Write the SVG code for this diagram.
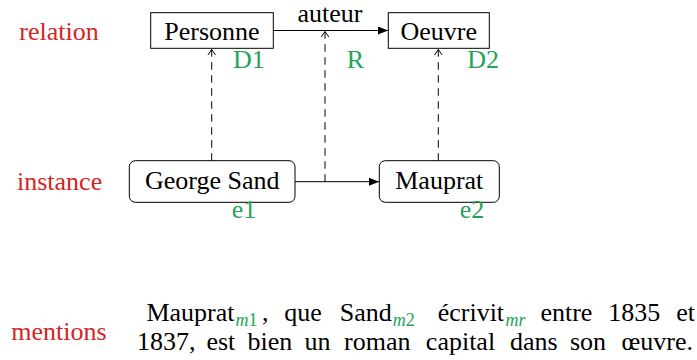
<svg xmlns="http://www.w3.org/2000/svg" width="697" height="360" viewBox="0 0 697 360">
<defs>
<style>
.lab{fill:#d42424}
.grn{fill:#23a455}
.box{fill:#fff;stroke:#000;stroke-width:1}
.solid{stroke:#000;stroke-width:1;fill:none}
.dash{stroke:#000;stroke-width:1;fill:none;stroke-dasharray:7.5 5.5}
</style>
<marker id="tri" viewBox="0 0 10 8" refX="10" refY="4" markerWidth="10" markerHeight="8" markerUnits="userSpaceOnUse" orient="auto">
<path d="M0,0 L10,4 L0,8 Z" fill="#000"/>
</marker>
<marker id="open" viewBox="0 0 8 10" refX="6.5" refY="5" markerWidth="8" markerHeight="10" markerUnits="userSpaceOnUse" orient="auto">
<path d="M1,1.2 L6.5,5 L1,8.8" fill="none" stroke="#000" stroke-width="1"/>
</marker>
</defs>

<g id="row-labels">
<text class="lab" font-family="Liberation Serif" font-size="26" text-anchor="middle" x="59" y="40">relation</text>
<text class="lab" font-family="Liberation Serif" font-size="26" text-anchor="middle" x="59.6" y="190">instance</text>
<text class="lab" font-family="Liberation Serif" font-size="26" text-anchor="middle" x="59" y="340">mentions</text>
</g>

<g id="connectors">
<line class="solid" x1="273.3" y1="30.5" x2="388" y2="30.5" marker-end="url(#tri)"/>
<line class="solid" x1="295" y1="181.7" x2="379" y2="181.7" marker-end="url(#tri)"/>
<line class="dash" x1="211.7" y1="160.7" x2="211.7" y2="49.5" marker-end="url(#open)"/>
<line class="dash" x1="325" y1="181.7" x2="325" y2="31.5" marker-end="url(#open)"/>
<line class="dash" x1="438.3" y1="160.7" x2="438.3" y2="49.5" marker-end="url(#open)"/>
<text font-family="Liberation Serif" font-size="26" text-anchor="middle" x="330" y="21.5">auteur</text>
<text class="grn" font-family="Liberation Serif" font-size="26" text-anchor="middle" x="248.9" y="68.3">D1</text>
<text class="grn" font-family="Liberation Serif" font-size="26" text-anchor="middle" x="355.4" y="68.3">R</text>
<text class="grn" font-family="Liberation Serif" font-size="26" text-anchor="middle" x="483.2" y="68.3">D2</text>
</g>

<g id="personne">
<rect class="box" x="150.7" y="12.7" width="122.6" height="35.6"/>
<text font-family="Liberation Serif" font-size="26" text-anchor="middle" x="212" y="40">Personne</text>
</g>

<g id="oeuvre">
<rect class="box" x="388.3" y="12.7" width="101" height="35.6"/>
<text font-family="Liberation Serif" font-size="26" text-anchor="middle" x="438.8" y="40">Oeuvre</text>
</g>

<g id="george-sand">
<rect class="box" x="129.3" y="160.7" width="165.7" height="41.6" rx="6" ry="6"/>
<text font-family="Liberation Serif" font-size="26" text-anchor="middle" x="212.2" y="188.5">George Sand</text>
<text class="grn" font-family="Liberation Serif" font-size="26" text-anchor="middle" x="244.1" y="218.3">e1</text>
</g>

<g id="mauprat">
<rect class="box" x="379.3" y="160.7" width="120" height="41.6" rx="6" ry="6"/>
<text font-family="Liberation Serif" font-size="26" text-anchor="middle" x="439.3" y="188.5">Mauprat</text>
<text class="grn" font-family="Liberation Serif" font-size="26" text-anchor="middle" x="471.9" y="218.3">e2</text>
</g>

<g id="mentions-text">
<text font-family="Liberation Serif" font-size="26" text-anchor="end" x="234.5" y="321">Mauprat</text>
<text class="grn" font-family="Liberation Serif" font-size="18" x="235.5" y="325.5"><tspan font-style="italic">m</tspan>1</text>
<text font-family="Liberation Serif" font-size="26" x="262" y="321">,</text>
<text font-family="Liberation Serif" font-size="26" text-anchor="middle" x="303" y="321">que</text>
<text font-family="Liberation Serif" font-size="26" text-anchor="end" x="391.8" y="321">Sand</text>
<text class="grn" font-family="Liberation Serif" font-size="18" x="392.8" y="325.5"><tspan font-style="italic">m</tspan>2</text>
<text font-family="Liberation Serif" font-size="26" text-anchor="end" x="504.1" y="321">écrivit</text>
<text class="grn" font-family="Liberation Serif" font-size="18" font-style="italic" x="505.5" y="325.5">mr</text>
<text font-family="Liberation Serif" font-size="26" text-anchor="middle" x="566.4" y="321">entre</text>
<text font-family="Liberation Serif" font-size="26" text-anchor="middle" x="634.3" y="321">1835</text>
<text font-family="Liberation Serif" font-size="26" text-anchor="end" x="695" y="321">et</text>
<text font-family="Liberation Serif" font-size="26" x="137" y="350">1837,</text>
<text font-family="Liberation Serif" font-size="26" text-anchor="middle" x="220.9" y="350">est</text>
<text font-family="Liberation Serif" font-size="26" text-anchor="middle" x="270" y="350">bien</text>
<text font-family="Liberation Serif" font-size="26" text-anchor="middle" x="317.6" y="350">un</text>
<text font-family="Liberation Serif" font-size="26" text-anchor="middle" x="377.3" y="350">roman</text>
<text font-family="Liberation Serif" font-size="26" text-anchor="middle" x="460.5" y="350">capital</text>
<text font-family="Liberation Serif" font-size="26" text-anchor="middle" x="533.8" y="350">dans</text>
<text font-family="Liberation Serif" font-size="26" text-anchor="middle" x="588" y="350">son</text>
<text font-family="Liberation Serif" font-size="26" text-anchor="end" x="693" y="350">œuvre.</text>
</g>
</svg>
